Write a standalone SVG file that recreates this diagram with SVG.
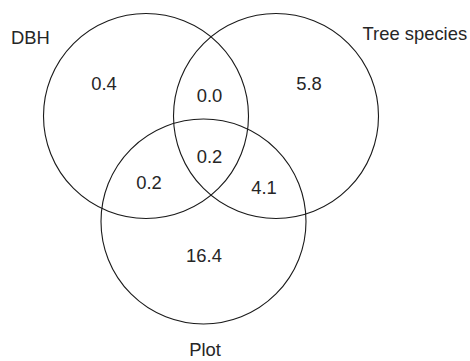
<svg xmlns="http://www.w3.org/2000/svg" width="470" height="361" viewBox="0 0 470 361">
<style>
.c{fill:none;stroke:#1a1a1a;stroke-width:1.1}
.t{font-family:"Liberation Sans",Arial,sans-serif;font-size:18.4px;fill:#262626}
.m{text-anchor:middle}
</style>
<rect width="470" height="361" fill="#fff"/>
<g id="dbh"><circle class="c" cx="146" cy="116" r="102.5"/><text class="t" x="11" y="44">DBH</text></g>
<g id="tree-species"><circle class="c" cx="276" cy="116" r="102.5"/><text class="t" x="362.5" y="40">Tree species</text></g>
<g id="plot"><circle class="c" cx="203.5" cy="221.5" r="102.5"/><text class="t m" x="205" y="355.5">Plot</text></g>
<g id="values">
<text class="t m" x="104" y="90">0.4</text>
<text class="t m" x="309" y="90">5.8</text>
<text class="t m" x="209.5" y="101.5">0.0</text>
<text class="t m" x="209.5" y="162.5">0.2</text>
<text class="t m" x="149" y="189">0.2</text>
<text class="t m" x="264" y="193.5">4.1</text>
<text class="t m" x="204" y="261.5">16.4</text>
</g>
<g id="connectors"/>
</svg>
